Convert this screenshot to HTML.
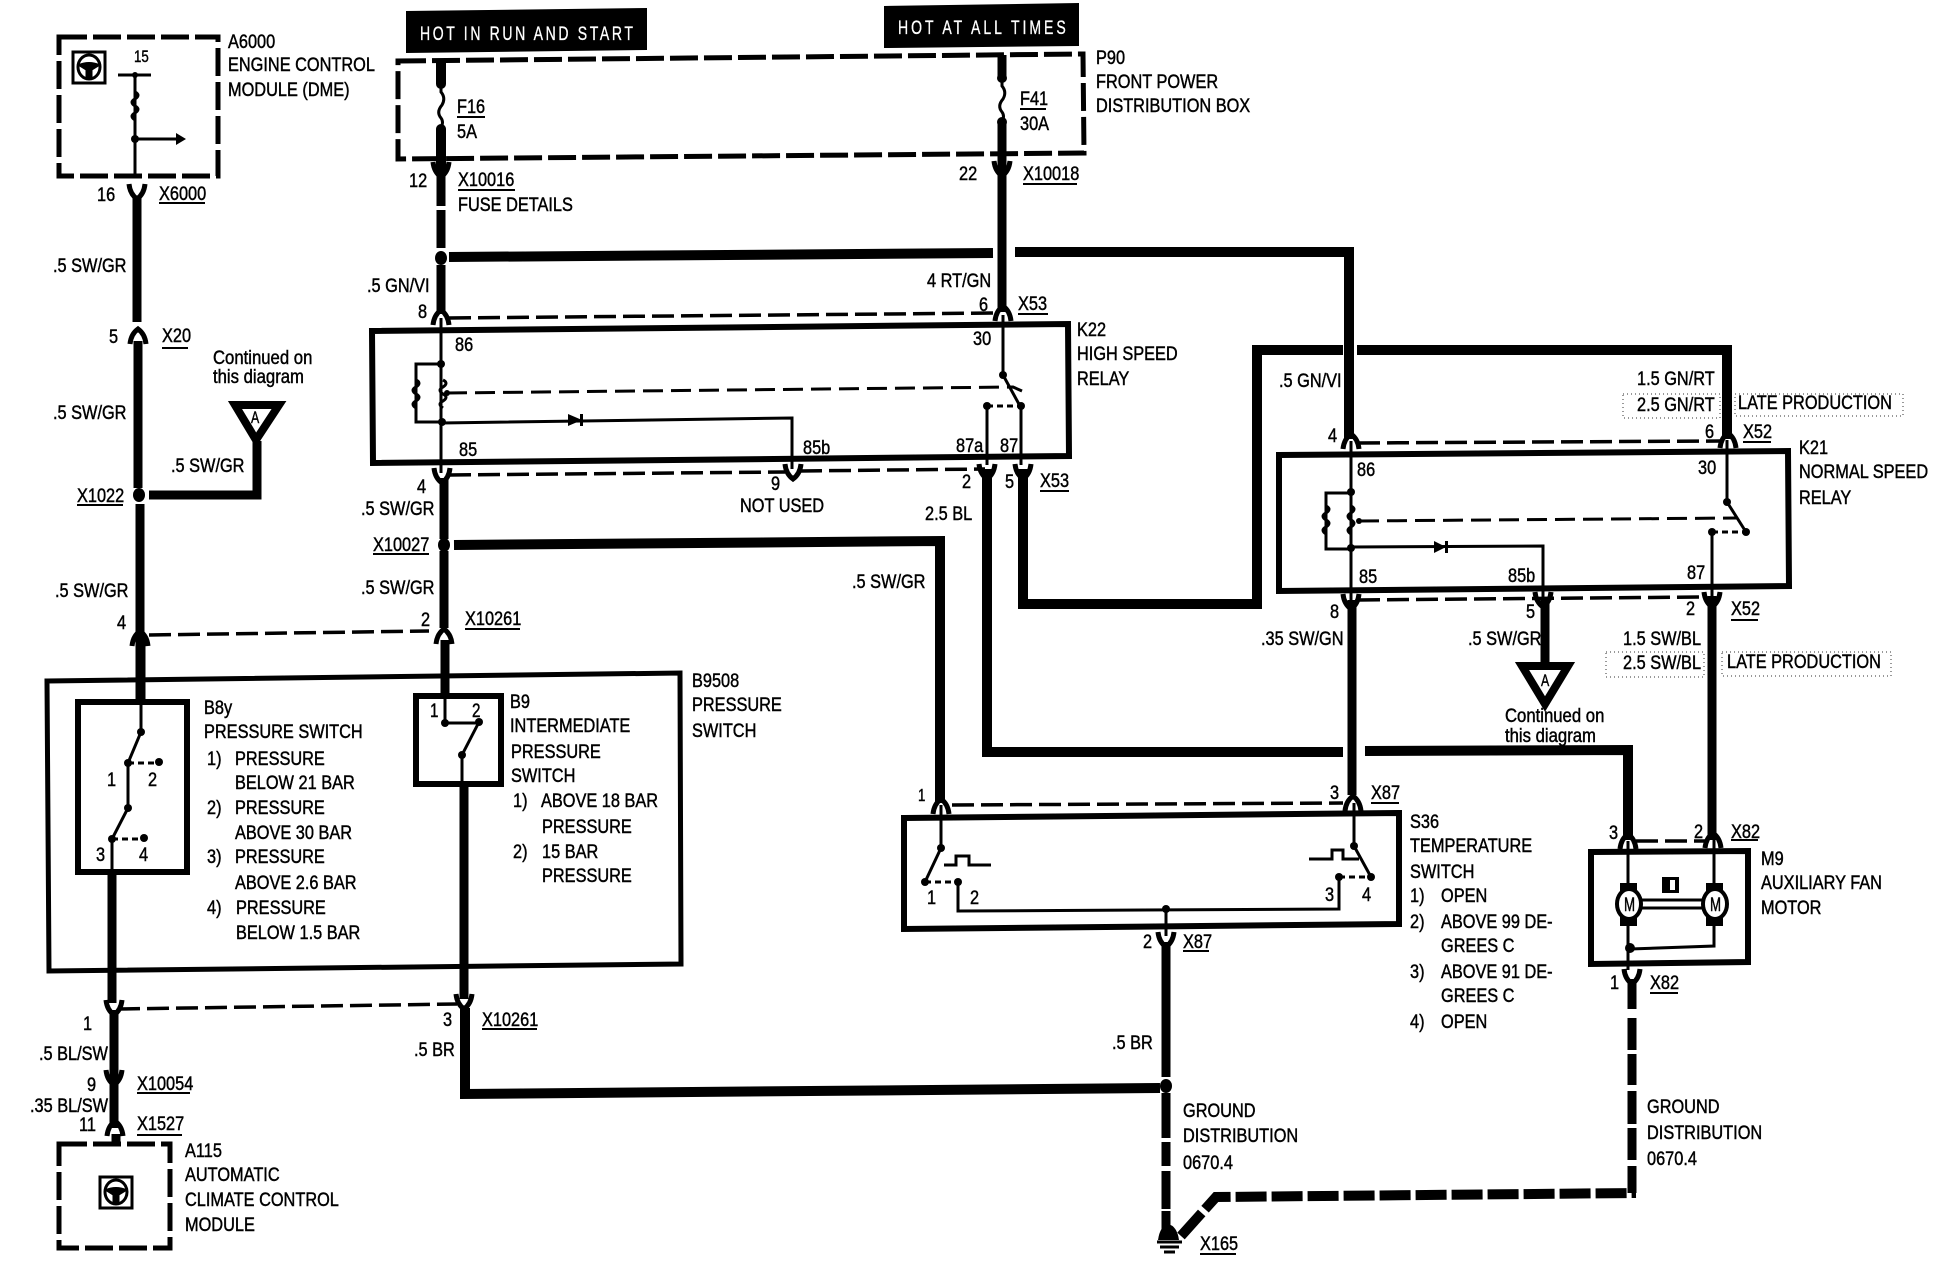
<!DOCTYPE html>
<html><head><meta charset="utf-8"><style>
html,body{margin:0;padding:0;background:#fff}
svg{display:block}
text{font-family:"Liberation Sans",sans-serif;font-size:19px;fill:#000;stroke:#000;stroke-width:.45}
.w{font-size:18px;fill:#fff;stroke:#fff;stroke-width:.3}
</style></head><body>
<svg xmlns="http://www.w3.org/2000/svg" width="1952" height="1280" viewBox="0 0 1952 1280">
<defs>
<g id="v" fill="none" stroke="#000" stroke-width="5"><path d="M-8-8Q-7 2 0 7Q7 2 8-8"/></g>
<g id="a" fill="none" stroke="#000" stroke-width="5"><path d="M-8 8Q-7-2 0-7Q7-2 8 8"/></g>
<path id="coil" fill="none" stroke="#000" stroke-width="3" d="M0 0q6 3 0 7q-6 3 0 7q6 3 0 7q-6 3 0 7"/>
<path id="fuse" fill="none" stroke="#000" stroke-width="3" d="M0 0v8q5 6 1 13q-6 7-1 13q3 4 0 10"/>
<g id="ic" fill="none" stroke="#000"><rect x="-16" y="-15" width="32" height="31" stroke-width="3"/><ellipse rx="11" ry="12" stroke-width="3"/><path d="M-11-2Q0-7 11-2L3 3V11H-3V3Z" fill="#000" stroke-width="1"/></g>
</defs>

<!-- thick wires -->
<g fill="none" stroke="#000" stroke-width="9" stroke-linejoin="miter">
<path d="M137 196V322"/>
<path d="M138 341V488"/>
<path d="M140 504V701"/>
<path d="M149 495H257V441"/>
<path d="M441 61V84M441 129V172" stroke-width="10"/>
<path d="M441 172V206M441 210V248M441 265V314" stroke-width="9"/>
<path d="M449 257L993 253M1015 252H1349V439" stroke-width="10"/>
<path d="M1002 55V78M1002 122V312"/>
<path d="M444 478V539M444 551V628M445 640V696"/>
<path d="M454 545L940 541V803" stroke-width="10"/>
<path d="M987 469V752H1343M1365 751L1628 750V840" stroke-width="10"/>
<path d="M1023 469V604H1257V350H1343M1357 350H1727V439" stroke-width="10"/>
<path d="M1352 600V795"/>
<path d="M1545 600V667"/>
<path d="M1712 596V840"/>
<path d="M141 640V702"/>
<path d="M112 872V1003"/>
<path d="M114 1010V1128"/>
<path d="M116 1134V1144"/>
<path d="M464 784V999"/>
<path d="M465 1008V1094L1160 1088" stroke-width="10"/>
<path d="M1166 942V1077M1166 1093V1138M1166 1142V1166M1166 1171V1209M1166 1211V1230"/>
<path d="M1632 979V1009M1632 1018V1050M1632 1054V1085M1632 1091V1124M1632 1128V1160M1632 1166V1193"/>
<path d="M1181 1236L1216 1197L1636 1193" stroke-width="10" stroke-dasharray="31 5"/>
</g>
<ellipse cx="441" cy="258" rx="6" ry="7"/>
<ellipse cx="139" cy="495" rx="6" ry="7"/>
<ellipse cx="444" cy="545" rx="6" ry="7"/>
<ellipse cx="1166" cy="1086" rx="6" ry="7"/>

<!-- boxes -->
<g fill="none" stroke="#000" stroke-width="6">
<polygon points="372,331 1068,324 1069,456 373,463"/>
<polygon points="1279,455 1788,451 1789,586 1279,591"/>
<polygon points="904,818 1399,813 1399,924 904,929"/>
<polygon points="1591,852 1748,851 1748,962 1591,964"/>
<polygon points="47,681 680,673 681,964 49,971" stroke-width="5"/>
<rect x="78" y="702" width="109" height="170"/>
<rect x="416" y="696" width="85" height="88"/>
</g>
<g fill="none" stroke="#000" stroke-width="5" stroke-dasharray="28 6">
<polygon points="59,37 218,37 218,176 59,176"/>
<polygon points="398,61 1083,54 1084,153 398,159"/>
<polygon points="59,1144 170,1144 170,1248 59,1248"/>
</g>

<!-- black header boxes -->
<polygon points="406,11 647,8 647,50 406,53"/>
<polygon points="884,6 1079,3 1079,46 884,48"/>
<text class="w" transform="matrix(.78 0 0 1.08 420 40)" textLength="273" lengthAdjust="spacing">HOT IN RUN AND START</text>
<text class="w" transform="matrix(.78 0 0 1.08 898 34)" textLength="215" lengthAdjust="spacing">HOT AT ALL TIMES</text>

<!-- thin dashed lines -->
<g fill="none" stroke="#000" stroke-width="3.5" stroke-dasharray="22 7">
<path d="M449 318L995 313"/>
<path d="M449 475L785 472M800 471L985 469"/>
<path d="M1358 443L1720 441"/>
<path d="M1358 600L1706 597"/>
<path d="M149 635L429 631"/>
<path d="M952 805L1343 803"/>
<path d="M1636 841H1705"/>
<path d="M118 1009L457 1004"/>
<path d="M447 393L1013 387L1022 391" stroke-dasharray="20 8" stroke-width="3"/>
<path d="M1359 521L1738 518" stroke-dasharray="20 8" stroke-width="3"/>
</g>

<!-- thin wires -->
<g fill="none" stroke="#000" stroke-width="3">
<path d="M135 75V176M118 75H151"/>
<path d="M135 139H178"/>
<path d="M441 318V473"/>
<path d="M441 364H416V422H441"/>
<path d="M441 423L792 418V469"/>
<path d="M1003 315V375L1020 406"/>
<path d="M987 406V465M1021 406V465"/>
<path d="M987 406H1020" stroke-dasharray="6 4"/>
<path d="M1351 441V600"/>
<path d="M1351 493H1326V549H1351"/>
<path d="M1351 547L1543 546V598"/>
<path d="M1727 440V502L1746 532"/>
<path d="M1712 532V598"/>
<path d="M1712 532H1746" stroke-dasharray="6 4"/>
<path d="M141 702V732L128 763V808L112 839V872"/>
<path d="M128 763H159M112 839H144" stroke-dasharray="6 4"/>
<path d="M445 696V723M445 723H479" />
<path d="M479 722L462 755V784"/>
<path d="M941 805V848L925 882"/>
<path d="M925 882H958M1339 877H1371" stroke-dasharray="6 4"/>
<path d="M958 882V911L1339 909V877"/>
<path d="M1354 803V846L1371 877"/>
<path d="M1166 909V936"/>
<path d="M944 865H956V856H969V865H991"/>
<path d="M1309 859H1332V850H1343V859H1359"/>
<path d="M1628 841V885M1714 840V885M1628 918V970M1714 924V946L1630 949"/>
<path d="M1642 900H1702M1642 908H1702"/>
</g>

<!-- coils, fuses, symbols -->
<use href="#coil" x="416" y="380"/><use href="#coil" x="443" y="380"/>
<use href="#coil" x="1326" y="506"/><use href="#coil" x="1351" y="506"/>
<use href="#coil" x="135" y="92"/>
<use href="#fuse" x="441" y="84"/><use href="#fuse" x="1002" y="78"/>
<use href="#ic" x="89" y="67"/><use href="#ic" x="116" y="1192"/>

<!-- dots -->
<g>
<circle cx="441" cy="84" r="5"/><circle cx="441" cy="129" r="5"/>
<circle cx="1002" cy="78" r="5"/><circle cx="1002" cy="122" r="5"/>
<circle cx="135" cy="75" r="3"/><circle cx="135" cy="139" r="4"/>
<polygon points="176,133 186,139 176,145"/>
<circle cx="441" cy="364" r="4"/><circle cx="442" cy="422" r="4"/><circle cx="447" cy="393" r="3"/>
<circle cx="1003" cy="375" r="4"/><circle cx="1021" cy="406" r="4"/><circle cx="987" cy="406" r="4"/>
<circle cx="1351" cy="492" r="4"/><circle cx="1351" cy="548" r="4"/><circle cx="1359" cy="521" r="3"/>
<circle cx="1727" cy="502" r="4"/><circle cx="1746" cy="532" r="4"/><circle cx="1712" cy="532" r="4"/>
<circle cx="141" cy="732" r="4"/><circle cx="128" cy="763" r="4"/><circle cx="159" cy="762" r="4"/>
<circle cx="128" cy="808" r="4"/><circle cx="112" cy="839" r="4"/><circle cx="144" cy="838" r="4"/>
<circle cx="445" cy="723" r="4"/><circle cx="479" cy="722" r="4"/><circle cx="462" cy="755" r="4"/>
<circle cx="941" cy="848" r="4"/><circle cx="925" cy="882" r="4"/><circle cx="958" cy="882" r="4"/>
<circle cx="1354" cy="846" r="4"/><circle cx="1371" cy="877" r="4"/><circle cx="1339" cy="877" r="4"/>
<circle cx="1166" cy="909" r="4"/>
<circle cx="1630" cy="948" r="5"/>
<polygon points="568,414 582,420 568,426"/><rect x="580" y="414" width="3" height="12"/>
<polygon points="1434,541 1446,547 1434,553"/><rect x="1445" y="541" width="3" height="12"/>
<rect x="1662" y="877" width="17" height="16" fill="#000"/><rect x="1670" y="880" width="5" height="10" fill="#fff"/>
<!-- ground -->
<path d="M1158 1240Q1160 1226 1168 1224Q1177 1226 1179 1240Z"/>
<path d="M1157 1242H1182M1160 1247H1179M1164 1252H1175" stroke="#000" stroke-width="3" fill="none"/>
</g>

<!-- motors -->
<g fill="#fff" stroke="#000" stroke-width="4">
<rect x="1622" y="885" width="13" height="8" fill="#000"/><rect x="1622" y="916" width="13" height="8" fill="#000"/>
<rect x="1708" y="885" width="13" height="8" fill="#000"/><rect x="1708" y="916" width="13" height="8" fill="#000"/>
<ellipse cx="1629" cy="904" rx="12" ry="15"/><ellipse cx="1715" cy="904" rx="12" ry="15"/>
</g>
<text transform="matrix(.7 0 0 1 1624 911)">M</text><text transform="matrix(.7 0 0 1 1710 911)">M</text>

<!-- triangles -->
<polygon points="235,405 279,405 256,440" fill="#fff" stroke="#000" stroke-width="8"/>
<polygon points="1522,666 1568,666 1545,704" fill="#fff" stroke="#000" stroke-width="8"/>
<text transform="matrix(.65 0 0 .85 251 423)">A</text>
<text transform="matrix(.65 0 0 .85 1541 686)">A</text>

<!-- connector symbols -->
<use href="#v" x="137" y="192"/><use href="#a" x="138" y="336"/><use href="#a" x="140" y="638"/>
<use href="#v" x="441" y="170"/><use href="#v" x="1002" y="169"/>
<use href="#a" x="441" y="317"/><use href="#a" x="1003" y="313"/>
<use href="#v" x="442" y="476"/><use href="#v" x="793" y="472"/>
<use href="#v" x="987" y="472"/><use href="#v" x="1023" y="472"/>
<use href="#a" x="444" y="636"/>
<use href="#a" x="1351" y="441"/><use href="#a" x="1728" y="440"/>
<use href="#v" x="1351" y="602"/><use href="#v" x="1543" y="600"/><use href="#v" x="1712" y="600"/>
<use href="#a" x="941" y="806"/><use href="#a" x="1353" y="803"/>
<use href="#v" x="1166" y="940"/>
<use href="#a" x="1628" y="841"/><use href="#a" x="1713" y="840"/>
<use href="#v" x="1632" y="977"/>
<use href="#v" x="114" y="1008"/><use href="#v" x="464" y="1002"/>
<use href="#v" x="114" y="1078"/><use href="#a" x="115" y="1128"/>

<!-- underlines -->
<g fill="none" stroke="#000" stroke-width="2">
<path d="M159 203H205M162 348H188M77 505H123M457 117H485M458 190H515M1020 109H1046M1023 184H1077"/>
<path d="M1018 314H1048M1040 491H1069M373 554H429M465 629H520M1743 442H1771M1731 620H1758"/>
<path d="M1371 803H1399M1183 951H1209M1731 840H1758M1650 993H1678M482 1029H537M137 1093H190M137 1135H182M1200 1254H1236"/>
</g>

<!-- late production speckle -->
<g fill="none" stroke="#777" stroke-width="1.5" stroke-dasharray="1 3">
<rect x="1623" y="394" width="97" height="24"/>
<rect x="1735" y="394" width="168" height="22"/>
<rect x="1606" y="652" width="98" height="25"/>
<rect x="1722" y="652" width="169" height="24"/>
</g>

<!-- labels -->
<text transform="matrix(.86 0 0 1 228 48)">A6000</text>
<text transform="matrix(.86 0 0 1 228 71)">ENGINE CONTROL</text>
<text transform="matrix(.86 0 0 1 228 96)">MODULE (DME)</text>
<text transform="matrix(.7 0 0 .85 134 62)">15</text>
<text transform="matrix(.86 0 0 1 97 201)">16</text>
<text transform="matrix(.86 0 0 1 159 200)">X6000</text>
<text transform="matrix(.86 0 0 1 53 272)">.5 SW/GR</text>
<text transform="matrix(.86 0 0 1 109 343)">5</text>
<text transform="matrix(.86 0 0 1 162 342)">X20</text>
<text transform="matrix(.86 0 0 1 53 419)">.5 SW/GR</text>
<text transform="matrix(.86 0 0 1 77 502)">X1022</text>
<text transform="matrix(.86 0 0 1 55 597)">.5 SW/GR</text>
<text transform="matrix(.86 0 0 1 117 629)">4</text>
<text transform="matrix(.88 0 0 1 213 364)">Continued on</text>
<text transform="matrix(.88 0 0 1 213 383)">this diagram</text>
<text transform="matrix(.86 0 0 1 171 472)">.5 SW/GR</text>

<text transform="matrix(.86 0 0 1 457 113)">F16</text>
<text transform="matrix(.86 0 0 1 457 138)">5A</text>
<text transform="matrix(.86 0 0 1 409 187)">12</text>
<text transform="matrix(.86 0 0 1 458 186)">X10016</text>
<text transform="matrix(.86 0 0 1 458 211)">FUSE DETAILS</text>
<text transform="matrix(.86 0 0 1 367 292)">.5 GN/VI</text>
<text transform="matrix(.86 0 0 1 418 318)">8</text>
<text transform="matrix(.86 0 0 1 455 351)">86</text>
<text transform="matrix(.86 0 0 1 459 456)">85</text>
<text transform="matrix(.86 0 0 1 417 493)">4</text>
<text transform="matrix(.86 0 0 1 361 515)">.5 SW/GR</text>
<text transform="matrix(.86 0 0 1 373 551)">X10027</text>
<text transform="matrix(.86 0 0 1 361 594)">.5 SW/GR</text>
<text transform="matrix(.86 0 0 1 421 626)">2</text>
<text transform="matrix(.86 0 0 1 465 625)">X10261</text>
<text transform="matrix(.86 0 0 1 803 454)">85b</text>
<text transform="matrix(.86 0 0 1 956 452)">87a</text>
<text transform="matrix(.86 0 0 1 1000 452)">87</text>
<text transform="matrix(.86 0 0 1 771 490)">9</text>
<text transform="matrix(.86 0 0 1 740 512)">NOT USED</text>
<text transform="matrix(.86 0 0 1 962 488)">2</text>
<text transform="matrix(.86 0 0 1 925 520)">2.5 BL</text>
<text transform="matrix(.86 0 0 1 1005 488)">5</text>
<text transform="matrix(.86 0 0 1 1040 487)">X53</text>
<text transform="matrix(.86 0 0 1 852 588)">.5 SW/GR</text>

<text transform="matrix(.86 0 0 1 959 180)">22</text>
<text transform="matrix(.86 0 0 1 1020 105)">F41</text>
<text transform="matrix(.86 0 0 1 1020 130)">30A</text>
<text transform="matrix(.86 0 0 1 1023 180)">X10018</text>
<text transform="matrix(.86 0 0 1 1096 64)">P90</text>
<text transform="matrix(.86 0 0 1 1096 88)">FRONT POWER</text>
<text transform="matrix(.86 0 0 1 1096 112)">DISTRIBUTION BOX</text>
<text transform="matrix(.86 0 0 1 927 287)">4 RT/GN</text>
<text transform="matrix(.86 0 0 1 979 311)">6</text>
<text transform="matrix(.86 0 0 1 1018 310)">X53</text>
<text transform="matrix(.86 0 0 1 973 345)">30</text>
<text transform="matrix(.86 0 0 1 1077 336)">K22</text>
<text transform="matrix(.86 0 0 1 1077 360)">HIGH SPEED</text>
<text transform="matrix(.86 0 0 1 1077 385)">RELAY</text>

<text transform="matrix(.86 0 0 1 1279 387)">.5 GN/VI</text>
<text transform="matrix(.86 0 0 1 1637 385)">1.5 GN/RT</text>
<text transform="matrix(.86 0 0 1 1637 411)">2.5 GN/RT</text>
<text transform="matrix(.86 0 0 1 1738 409)">LATE PRODUCTION</text>
<text transform="matrix(.86 0 0 1 1328 442)">4</text>
<text transform="matrix(.86 0 0 1 1705 438)">6</text>
<text transform="matrix(.86 0 0 1 1743 438)">X52</text>
<text transform="matrix(.86 0 0 1 1799 454)">K21</text>
<text transform="matrix(.86 0 0 1 1799 478)">NORMAL SPEED</text>
<text transform="matrix(.86 0 0 1 1799 504)">RELAY</text>
<text transform="matrix(.86 0 0 1 1357 476)">86</text>
<text transform="matrix(.86 0 0 1 1698 474)">30</text>
<text transform="matrix(.86 0 0 1 1359 583)">85</text>
<text transform="matrix(.86 0 0 1 1508 582)">85b</text>
<text transform="matrix(.86 0 0 1 1687 579)">87</text>
<text transform="matrix(.86 0 0 1 1330 618)">8</text>
<text transform="matrix(.86 0 0 1 1526 618)">5</text>
<text transform="matrix(.86 0 0 1 1686 615)">2</text>
<text transform="matrix(.86 0 0 1 1731 615)">X52</text>
<text transform="matrix(.86 0 0 1 1261 645)">.35 SW/GN</text>
<text transform="matrix(.86 0 0 1 1468 645)">.5 SW/GR</text>
<text transform="matrix(.86 0 0 1 1623 645)">1.5 SW/BL</text>
<text transform="matrix(.86 0 0 1 1623 669)">2.5 SW/BL</text>
<text transform="matrix(.86 0 0 1 1727 668)">LATE PRODUCTION</text>
<text transform="matrix(.88 0 0 1 1505 722)">Continued on</text>
<text transform="matrix(.88 0 0 1 1505 742)">this diagram</text>

<text transform="matrix(.86 0 0 1 204 714)">B8y</text>
<text transform="matrix(.86 0 0 1 204 738)">PRESSURE SWITCH</text>
<text transform="matrix(.86 0 0 1 207 765)">1)</text><text transform="matrix(.86 0 0 1 235 765)">PRESSURE</text>
<text transform="matrix(.86 0 0 1 235 789)">BELOW 21 BAR</text>
<text transform="matrix(.86 0 0 1 207 814)">2)</text><text transform="matrix(.86 0 0 1 235 814)">PRESSURE</text>
<text transform="matrix(.86 0 0 1 235 839)">ABOVE 30 BAR</text>
<text transform="matrix(.86 0 0 1 207 863)">3)</text><text transform="matrix(.86 0 0 1 235 863)">PRESSURE</text>
<text transform="matrix(.86 0 0 1 235 889)">ABOVE 2.6 BAR</text>
<text transform="matrix(.86 0 0 1 207 914)">4)</text><text transform="matrix(.86 0 0 1 236 914)">PRESSURE</text>
<text transform="matrix(.86 0 0 1 236 939)">BELOW 1.5 BAR</text>
<text transform="matrix(.86 0 0 1 107 786)">1</text><text transform="matrix(.86 0 0 1 148 786)">2</text>
<text transform="matrix(.86 0 0 1 96 861)">3</text><text transform="matrix(.86 0 0 1 139 861)">4</text>
<text transform="matrix(.8 0 0 1 430 717)">1</text><text transform="matrix(.8 0 0 1 472 717)">2</text>
<text transform="matrix(.86 0 0 1 510 708)">B9</text>
<text transform="matrix(.86 0 0 1 510 732)">INTERMEDIATE</text>
<text transform="matrix(.86 0 0 1 511 758)">PRESSURE</text>
<text transform="matrix(.86 0 0 1 511 782)">SWITCH</text>
<text transform="matrix(.86 0 0 1 513 807)">1)</text><text transform="matrix(.86 0 0 1 541 807)">ABOVE 18 BAR</text>
<text transform="matrix(.86 0 0 1 542 833)">PRESSURE</text>
<text transform="matrix(.86 0 0 1 513 858)">2)</text><text transform="matrix(.86 0 0 1 542 858)">15 BAR</text>
<text transform="matrix(.86 0 0 1 542 882)">PRESSURE</text>
<text transform="matrix(.86 0 0 1 692 687)">B9508</text>
<text transform="matrix(.86 0 0 1 692 711)">PRESSURE</text>
<text transform="matrix(.86 0 0 1 692 737)">SWITCH</text>

<text transform="matrix(.7 0 0 .9 918 801)">1</text>
<text transform="matrix(.86 0 0 1 1330 799)">3</text>
<text transform="matrix(.86 0 0 1 1371 799)">X87</text>
<text transform="matrix(.86 0 0 1 927 904)">1</text><text transform="matrix(.86 0 0 1 970 904)">2</text>
<text transform="matrix(.86 0 0 1 1325 901)">3</text><text transform="matrix(.86 0 0 1 1362 901)">4</text>
<text transform="matrix(.86 0 0 1 1410 828)">S36</text>
<text transform="matrix(.86 0 0 1 1410 852)">TEMPERATURE</text>
<text transform="matrix(.86 0 0 1 1410 878)">SWITCH</text>
<text transform="matrix(.86 0 0 1 1410 902)">1)</text><text transform="matrix(.86 0 0 1 1441 902)">OPEN</text>
<text transform="matrix(.86 0 0 1 1410 928)">2)</text><text transform="matrix(.86 0 0 1 1441 928)">ABOVE 99 DE-</text>
<text transform="matrix(.86 0 0 1 1441 952)">GREES C</text>
<text transform="matrix(.86 0 0 1 1410 978)">3)</text><text transform="matrix(.86 0 0 1 1441 978)">ABOVE 91 DE-</text>
<text transform="matrix(.86 0 0 1 1441 1002)">GREES C</text>
<text transform="matrix(.86 0 0 1 1410 1028)">4)</text><text transform="matrix(.86 0 0 1 1441 1028)">OPEN</text>
<text transform="matrix(.86 0 0 1 1143 948)">2</text>
<text transform="matrix(.86 0 0 1 1183 948)">X87</text>
<text transform="matrix(.86 0 0 1 1112 1049)">.5 BR</text>
<text transform="matrix(.86 0 0 1 1183 1117)">GROUND</text>
<text transform="matrix(.86 0 0 1 1183 1142)">DISTRIBUTION</text>
<text transform="matrix(.86 0 0 1 1183 1169)">0670.4</text>
<text transform="matrix(.86 0 0 1 1200 1250)">X165</text>

<text transform="matrix(.86 0 0 1 1609 839)">3</text>
<text transform="matrix(.86 0 0 1 1694 838)">2</text>
<text transform="matrix(.86 0 0 1 1731 838)">X82</text>
<text transform="matrix(.86 0 0 1 1761 865)">M9</text>
<text transform="matrix(.86 0 0 1 1761 889)">AUXILIARY FAN</text>
<text transform="matrix(.86 0 0 1 1761 914)">MOTOR</text>
<text transform="matrix(.86 0 0 1 1610 989)">1</text>
<text transform="matrix(.86 0 0 1 1650 989)">X82</text>
<text transform="matrix(.86 0 0 1 1647 1113)">GROUND</text>
<text transform="matrix(.86 0 0 1 1647 1139)">DISTRIBUTION</text>
<text transform="matrix(.86 0 0 1 1647 1165)">0670.4</text>

<text transform="matrix(.86 0 0 1 83 1030)">1</text>
<text transform="matrix(.86 0 0 1 443 1026)">3</text>
<text transform="matrix(.86 0 0 1 482 1026)">X10261</text>
<text transform="matrix(.86 0 0 1 39 1060)">.5 BL/SW</text>
<text transform="matrix(.86 0 0 1 414 1056)">.5 BR</text>
<text transform="matrix(.86 0 0 1 87 1091)">9</text>
<text transform="matrix(.86 0 0 1 137 1090)">X10054</text>
<text transform="matrix(.86 0 0 1 30 1112)">.35 BL/SW</text>
<text transform="matrix(.86 0 0 1 79 1131)">11</text>
<text transform="matrix(.86 0 0 1 137 1130)">X1527</text>
<text transform="matrix(.86 0 0 1 185 1157)">A115</text>
<text transform="matrix(.86 0 0 1 185 1181)">AUTOMATIC</text>
<text transform="matrix(.86 0 0 1 185 1206)">CLIMATE CONTROL</text>
<text transform="matrix(.86 0 0 1 185 1231)">MODULE</text>
</svg>
</body></html>
